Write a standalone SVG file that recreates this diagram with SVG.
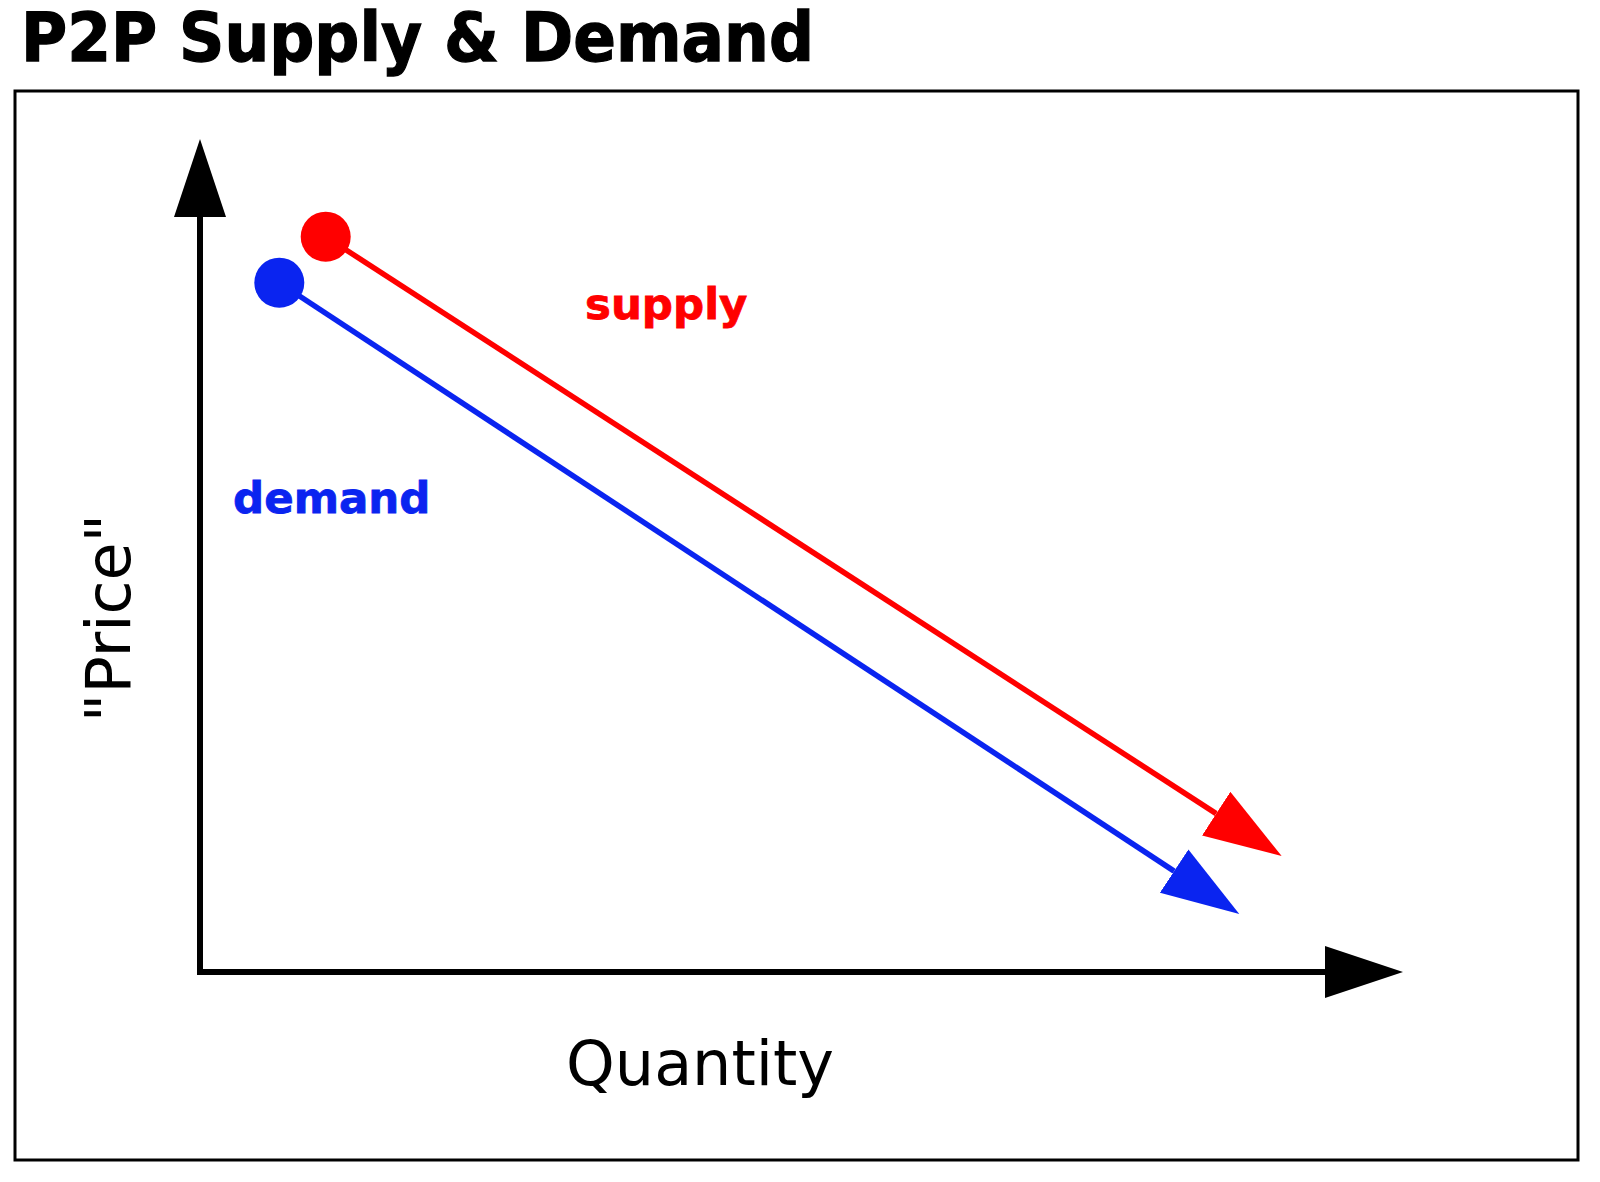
<svg xmlns="http://www.w3.org/2000/svg" width="1600" height="1182" viewBox="0 0 1600 1182">
  <style>
    .title { font-family: "DejaVu Sans", Verdana, sans-serif; font-weight: bold; font-size: 63px; fill: #000; stroke: #000; stroke-width: 1.2; }
    .lbl { font-family: "DejaVu Sans", Verdana, sans-serif; font-weight: bold; font-size: 43.5px; stroke-width: 0.8; }
    .axis-lbl { font-family: "DejaVu Sans", Verdana, sans-serif; font-size: 62px; fill: #000; }
    .axis { stroke: #000; stroke-width: 6; fill: none; }
    .red { stroke: #ff0000; stroke-width: 5.5; fill: none; }
    .blue { stroke: #0a24f0; stroke-width: 5.5; fill: none; }
  </style>
  <defs>
    <marker id="ah-black" markerUnits="userSpaceOnUse" viewBox="0 0 78 52" refX="0" refY="26" markerWidth="78" markerHeight="52" orient="auto">
      <path d="M0,0 L78,26 L0,52 Z" fill="#000"/>
    </marker>
    <marker id="ah-red" markerUnits="userSpaceOnUse" viewBox="0 0 78 52" refX="0" refY="26" markerWidth="78" markerHeight="52" orient="auto">
      <path d="M0,0 L78,26 L0,52 Z" fill="#ff0000"/>
    </marker>
    <marker id="ah-blue" markerUnits="userSpaceOnUse" viewBox="0 0 78 52" refX="0" refY="26" markerWidth="78" markerHeight="52" orient="auto">
      <path d="M0,0 L78,26 L0,52 Z" fill="#0a24f0"/>
    </marker>
  </defs>
  <rect width="1600" height="1182" fill="#fff"/>
  <text class="title" x="21" y="61" transform="translate(0,61) scale(1,1.06) translate(0,-61)">P2P Supply &amp; Demand</text>
  <rect x="15" y="91" width="1563" height="1069" fill="none" stroke="#000" stroke-width="3"/>

  <g id="connectors">
    <line class="axis" x1="200" y1="975" x2="200" y2="217" marker-end="url(#ah-black)"/>
    <line class="axis" x1="197" y1="972" x2="1325" y2="972" marker-end="url(#ah-black)"/>
    <line class="red" x1="325.7" y1="236.7" x2="1216.2" y2="813.6" marker-end="url(#ah-red)"/>
    <line class="blue" x1="279.3" y1="282.7" x2="1174.1" y2="871.1" marker-end="url(#ah-blue)"/>
  </g>

  <g id="supply-start">
    <circle cx="325.7" cy="236.7" r="25" fill="#ff0000"/>
  </g>
  <g id="demand-start">
    <circle cx="279.3" cy="282.7" r="25" fill="#0a24f0"/>
  </g>
  <g id="supply-label">
    <text class="lbl" x="585" y="319" fill="#ff0000" stroke="#ff0000">supply</text>
  </g>
  <g id="demand-label">
    <text class="lbl" x="233" y="513" fill="#0a24f0" stroke="#0a24f0">demand</text>
  </g>
  <g id="price-label">
    <text class="axis-lbl" transform="translate(130,618) rotate(-90)" text-anchor="middle" font-size="64">"Price"</text>
  </g>
  <g id="quantity-label">
    <text class="axis-lbl" x="700" y="1085" text-anchor="middle">Quantity</text>
  </g>
</svg>
